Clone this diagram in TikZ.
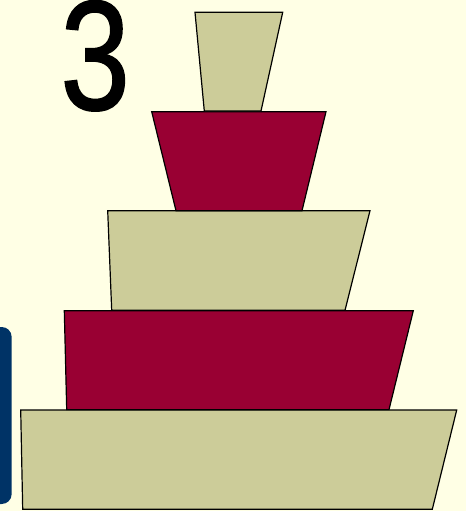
\documentclass[tikz,border=0pt]{standalone}
\usepackage{fontspec}
\setmainfont{Liberation Sans}
\newfontfamily\numfont{Liberation Sans}[FakeBold=1.2]
\usetikzlibrary{positioning}

\definecolor{cream}{HTML}{FFFFE5}
\definecolor{khaki}{HTML}{CCCC99}
\definecolor{wine}{HTML}{990033}
\definecolor{navy}{HTML}{003366}

\begin{document}
\begin{tikzpicture}[
  x=1pt, y=-1pt,
  disc/.style={draw=black, line width=1.2pt, line join=miter},
  light/.style={disc, fill=khaki},
  dark/.style={disc, fill=wine},
  tab/.style={fill=navy, rounded corners=10pt}
]
% background and frame
\fill[cream] (0,0) rectangle (466,511);
\useasboundingbox (0,0) rectangle (466,511);
% blue tab at the left edge
\fill[tab] (-20,327) -- (11.7,327) -- (11.7,504) -- (-20,504) -- cycle;
% the number
\node[anchor=base, inner sep=0pt, text height=100pt, text depth=1pt,
      font=\numfont\fontsize{156}{160}\selectfont] (num) at (95.2,109.5) {\scalebox{0.8}[1]{3}};
% the stack, from the bottom up
\draw[light] (20.7,410) -- (456.7,410) -- (432.3,509.3) -- (22.7,509.3) -- cycle;
\draw[dark]  (64.3,310.7) -- (413.3,310.7) -- (389,409.6) -- (66.7,409.6) -- cycle;
\draw[light] (107.7,210.7) -- (370,210.7) -- (345,310.3) -- (111.7,310.3) -- cycle;
\draw[dark]  (151.7,111.7) -- (326,111.7) -- (302,210.7) -- (176,210.7) -- cycle;
\draw[light] (195,12.3) -- (282.7,12.3) -- (261,111) -- (204.3,111) -- cycle;
\end{tikzpicture}
\end{document}
